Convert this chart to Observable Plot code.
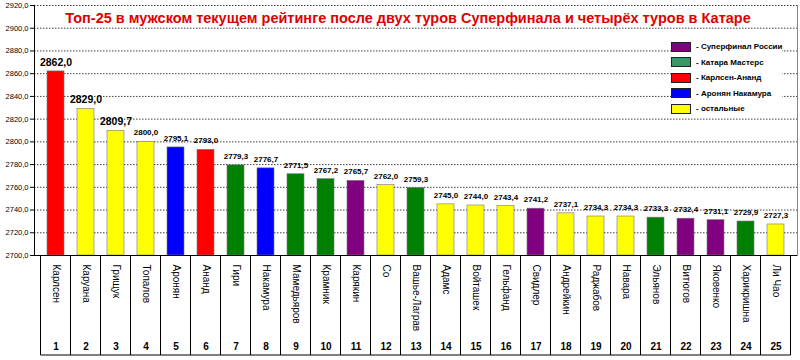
<!DOCTYPE html>
<html><head><meta charset="utf-8">
<script src="https://cdn.jsdelivr.net/npm/d3@7"></script>
<script src="https://cdn.jsdelivr.net/npm/@observablehq/plot@0.6"></script>
<style>
body{margin:0;background:#fff;font-family:"Liberation Sans",Arial,sans-serif;}
#wrap{position:relative;width:800px;height:360px;overflow:hidden;}
#chart{position:absolute;left:0;top:0;}
#title{position:absolute;left:0;width:816px;top:10px;line-height:16px;text-align:center;color:#e00000;font-weight:bold;font-size:14.5px;white-space:nowrap;}
#legend{position:absolute;left:671px;top:39px;background:#fff;}
.row{display:flex;align-items:center;height:15.5px;}
.sw{width:18px;height:8px;border:1px solid #222;}
.lt{margin-left:5px;font-size:8px;font-weight:bold;color:#000;}
</style></head>
<body>
<div id="wrap">
  <div id="chart"></div>
  <div id="title">Топ-25 в мужском текущем рейтинге после двух туров Суперфинала и четырёх туров в Катаре</div>
  <div id="legend"></div>
</div>
<script>
const ranks = [1,2,3,4,5,6,7,8,9,10,11,12,13,14,15,16,17,18,19,20,21,22,23,24,25];
const names = ["Карлсен","Каруана","Грищук","Топалов","Аронян","Ананд","Гири","Накамура","Мамедьяров","Крамник","Карякин","Со","Вашье-Лаграв","Адамс","Войташек","Гельфанд","Свидлер","Андрейкин","Раджабов","Навара","Эльянов","Витюгов","Яковенко","Харикришна","Ли Чао"];
const ratings = [2862.0,2829.0,2809.7,2800.0,2795.1,2793.0,2779.3,2776.7,2771.5,2767.2,2765.7,2762.0,2759.3,2745.0,2744.0,2743.4,2741.2,2737.1,2734.3,2734.3,2733.3,2732.4,2731.1,2729.9,2727.3];
const groups = ["КА","ост","ост","ост","АН","КА","КМ","АН","КМ","КМ","СР","ост","КМ","ост","ост","ост","СР","ост","ост","ост","КМ","СР","СР","КМ","ост"];
const groupKeys = ["СР","КМ","КА","АН","ост"];
const groupLabels = ["- Суперфинал России","- Катара Мастерс","- Карлсен-Ананд","- Аронян Накамура","- остальные"];
const barColors = ["#800080","#008000","#ff0000","#0000ff","#ffff00"];
const legendColors = ["#800080","#339966","#ff0000","#0000ff","#ffff00"];
const yTicks = [2700,2720,2740,2760,2780,2800,2820,2840,2860,2880,2900,2920];

const data = ranks.map((r,i)=>({rank:r,name:names[i],rating:ratings[i],group:groups[i]}));
const fmt = v => v.toFixed(1).replace(".", ",");
const yMin = yTicks[0];

const plot = Plot.plot({
  width: 800, height: 360,
  marginLeft: 34, marginRight: 3, marginTop: 5, marginBottom: 105,
  style: {fontFamily: '"Liberation Sans", Arial, sans-serif', background: "transparent", color: "#000"},
  x: {type: "band", domain: ranks, paddingInner: 0.44, paddingOuter: 0.2, axis: null},
  y: {domain: [yTicks[0], yTicks[yTicks.length-1]], axis: null},
  color: {domain: groupKeys, range: barColors},
  marks: [
    Plot.gridY(yTicks.slice(1), {stroke: "#000", strokeOpacity: 0.75, strokeDasharray: "1.5,1.5"}),
    Plot.barY(data, {x: "rank", y1: () => yMin, y2: "rating", fill: "group", stroke: "#777", strokeWidth: 0.6}),
    Plot.text(data.filter(d => d.rank <= 3), {x: "rank", y: "rating", text: d => fmt(d.rating), dy: -9, fontSize: 10.5, fontWeight: "bold", fill: "#000"}),
    Plot.text(data.filter(d => d.rank > 3), {x: "rank", y: "rating", text: d => fmt(d.rating), dy: -9, fontSize: 8, fontWeight: "bold", fill: "#000"}),
    Plot.ruleY([yMin], {stroke: "#000", strokeWidth: 1}),
    Plot.frame({anchor: "left", stroke: "#000"}),
    Plot.frame({anchor: "right", stroke: "#888"}),
    Plot.axisY(yTicks, {anchor: "left", tickSize: 4, tickPadding: 2, tickFormat: fmt, fontSize: 7.5, label: null}),
    Plot.axisX(ranks, {anchor: "bottom", tickSize: 0, tickPadding: 9, tickRotate: 90, tickFormat: d => names[d-1], fontSize: 10, label: null}),
    Plot.axisX(ranks, {anchor: "bottom", tickSize: 0, tickPadding: 87, tickFormat: d => String(d), fontSize: 10, fontWeight: "bold", label: null})
  ]
});
document.getElementById("chart").appendChild(plot);

// category table lines below the axis, placed with the plot's x scale
const xs = plot.scale("x");
const gap = xs.step - xs.bandwidth;
const tableTop = 360 - 105, tableBottom = 355;
const svg = d3.select(plot);
const g = svg.append("g").attr("stroke", "#000").attr("stroke-width", 1);
const bounds = ranks.map(r => xs.apply(r) - gap / 2);
bounds.push(xs.apply(ranks[ranks.length-1]) + xs.bandwidth + gap / 2);
g.selectAll("line.sep").data(bounds).join("line")
  .attr("x1", d => d).attr("x2", d => d).attr("y1", tableTop).attr("y2", tableBottom);
g.append("line").attr("x1", bounds[0]).attr("x2", bounds[bounds.length-1]).attr("y1", tableBottom).attr("y2", tableBottom);

// legend
const lg = document.getElementById("legend");
groupKeys.forEach((k,i) => {
  const row = document.createElement("div"); row.className = "row";
  const sw = document.createElement("div"); sw.className = "sw"; sw.style.background = legendColors[i];
  const t = document.createElement("div"); t.className = "lt"; t.textContent = groupLabels[i];
  row.appendChild(sw); row.appendChild(t); lg.appendChild(row);
});
</script>
</body></html>
